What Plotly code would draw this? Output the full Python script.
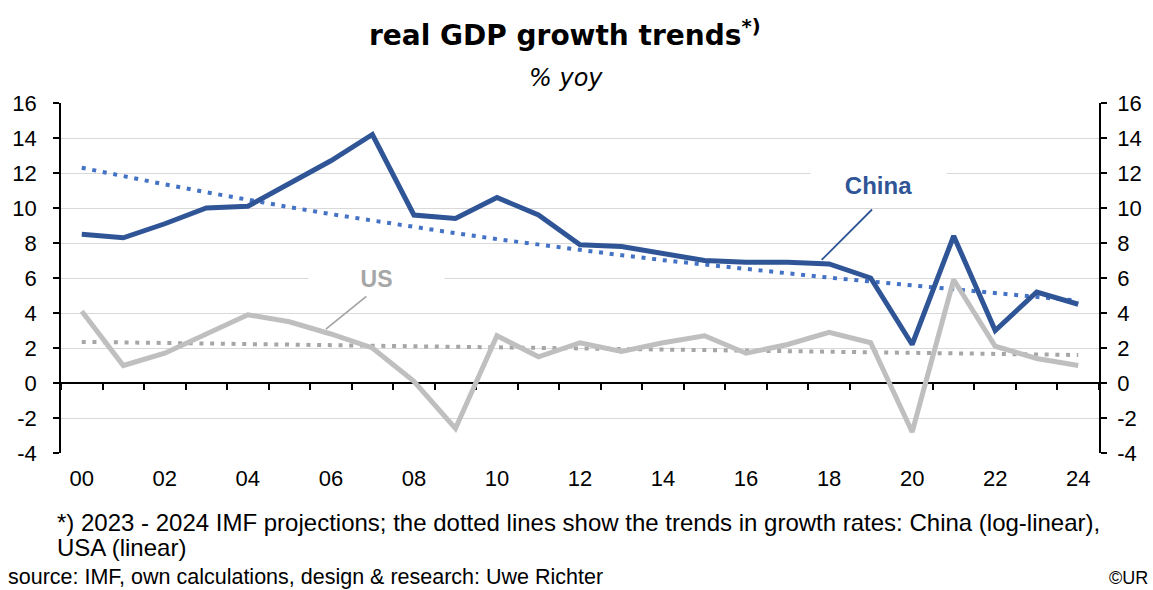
import plotly.graph_objects as go

years = ["00","01","02","03","04","05","06","07","08","09","10","11","12",
         "13","14","15","16","17","18","19","20","21","22","23","24"]
china = [8.5, 8.3, 9.1, 10.0, 10.1, 11.4, 12.7, 14.2, 9.6, 9.4, 10.6, 9.6, 7.9,
         7.8, 7.4, 7.0, 6.9, 6.9, 6.8, 6.0, 2.2, 8.4, 3.0, 5.2, 4.5]
us = [4.1, 1.0, 1.7, 2.8, 3.9, 3.5, 2.8, 2.0, 0.1, -2.6, 2.7, 1.5, 2.3,
      1.8, 2.3, 2.7, 1.7, 2.2, 2.9, 2.3, -2.8, 5.9, 2.1, 1.4, 1.0]
china_trend = [12.3, 11.8, 11.35, 10.9, 10.45, 10.05, 9.65, 9.27, 8.9, 8.56, 8.22, 7.9, 7.6,
               7.3, 7.02, 6.76, 6.5, 6.25, 6.02, 5.8, 5.58, 5.37, 5.17, 4.97, 4.7]
us_trend = [2.35, 2.32, 2.29, 2.26, 2.23, 2.19, 2.16, 2.13, 2.1, 2.07, 2.04, 2.01, 1.98,
            1.94, 1.91, 1.88, 1.85, 1.82, 1.79, 1.76, 1.73, 1.69, 1.66, 1.63, 1.6]
x_tick_labels = years[::2]
y_tick_vals = [-4, -2, 0, 2, 4, 6, 8, 10, 12, 14, 16]
y_tick_text = ["-4", "-2", "0", "2", "4", "6", "8", "10", "12", "14", "16"]

BLUE = "#2F5597"
BLUE_DOT = "#4472C4"
GREY = "#BFBFBF"
GREY_DOT = "#A6A6A6"
FONT = "Liberation Sans, Arial, sans-serif"
VFONT = "DejaVu Sans, Verdana, sans-serif"

fig = go.Figure()
fig.add_trace(go.Scatter(x=years, y=us_trend, mode="lines",
                         line=dict(color=GREY_DOT, width=4, dash="4px,6.7px"), hoverinfo="skip"))
fig.add_trace(go.Scatter(x=years, y=china_trend, mode="lines",
                         line=dict(color=BLUE_DOT, width=4, dash="4px,6.7px"), hoverinfo="skip"))
fig.add_trace(go.Scatter(x=years, y=us, mode="lines", name="US",
                         line=dict(color=GREY, width=5)))
fig.add_trace(go.Scatter(x=years, y=china, mode="lines", name="China",
                         line=dict(color=BLUE, width=5)))
fig.add_trace(go.Scatter(x=[None], y=[None], xaxis="x2", yaxis="y2", showlegend=False, hoverinfo="skip"))

L, R, T, B = 61, 1153 - 1099, 103, 590 - 453
H = 590 - T - B
W = 1153 - L - R

def py(p):
    return (590 - B - p) / H

def px(p):
    return (p - L) / W

axis_common = dict(showline=True, linecolor="black", linewidth=1.5,
                   ticks="outside", ticklen=6, tickwidth=1.5, tickcolor="black")

fig.update_layout(
    width=1153, height=590,
    margin=dict(l=L, r=R, t=T, b=B),
    paper_bgcolor="white", plot_bgcolor="white",
    showlegend=False,
    font=dict(family=FONT, size=22, color="black"),
    xaxis=dict(type="category", range=[-0.5, 24.5], tickvals=x_tick_labels, ticktext=x_tick_labels,
               showgrid=False, showline=False, ticks="", zeroline=False,
               tickfont=dict(size=22), ticklabelstandoff=10),
    xaxis2=dict(overlaying="x", anchor="free", position=0.2, side="bottom",
                range=[-0.5, 24.5], tick0=0.5, dtick=1, showticklabels=False,
                showline=True, linecolor="black", linewidth=2,
                ticks="outside", ticklen=6, tickwidth=1.5, tickcolor="black",
                showgrid=False, zeroline=False, layer="below traces"),
    yaxis=dict(range=[-4, 16], tickvals=y_tick_vals, ticktext=y_tick_text,
               showgrid=True, gridcolor="#D9D9D9", gridwidth=1.3, zeroline=False,
               tickfont=dict(size=22), ticklabelstandoff=12, **axis_common),
    yaxis2=dict(overlaying="y", side="right", range=[-4, 16], tickvals=y_tick_vals, ticktext=y_tick_text,
                showgrid=False, zeroline=False,
                tickfont=dict(size=22), ticklabelstandoff=6, **axis_common),
)

ann = []
ann.append(dict(text="<b>real GDP growth trends<sup>*)</sup></b>", xref="paper", yref="paper",
                x=px(565), y=py(33), xanchor="center", yanchor="middle", showarrow=False,
                font=dict(family=VFONT, size=28, color="black")))
ann.append(dict(text="<i>% yoy</i>", xref="paper", yref="paper",
                x=px(566), y=py(78), xanchor="center", yanchor="middle", showarrow=False,
                font=dict(family=VFONT, size=24, color="black")))
# leader lines
ann.append(dict(text="", x=17.82, y=7.03, ax=19.07, ay=10.0, xref="x", yref="y",
                axref="x", ayref="y", showarrow=True, arrowhead=0, arrowwidth=1.8,
                arrowcolor=BLUE, standoff=0, startstandoff=0))
ann.append(dict(text="", x=5.88, y=3.08, ax=6.89, ay=5.02, xref="x", yref="y",
                axref="x", ayref="y", showarrow=True, arrowhead=0, arrowwidth=1.8,
                arrowcolor=GREY_DOT, standoff=0, startstandoff=0))
# labels
ann.append(dict(text="<b>China</b>", x=19.19, y=11.32, xref="x", yref="y", showarrow=False,
                bgcolor="white", width=135, height=30, borderpad=0,
                font=dict(family=FONT, size=24, color=BLUE)))
ann.append(dict(text="<b>US</b>", x=7.1, y=5.94, xref="x", yref="y", showarrow=False,
                bgcolor="white", width=135, height=30, borderpad=0,
                font=dict(family=FONT, size=23, color=GREY_DOT)))
# footnotes
ann.append(dict(text="*) 2023 - 2024 IMF projections; the dotted lines show the trends in growth rates: China (log-linear),",
                xref="paper", yref="paper", x=px(55), y=py(522), xanchor="left", yanchor="middle",
                showarrow=False, font=dict(size=24)))
ann.append(dict(text="USA (linear)",
                xref="paper", yref="paper", x=px(55), y=py(547), xanchor="left", yanchor="middle",
                showarrow=False, font=dict(size=24)))
ann.append(dict(text="source: IMF, own calculations, design & research: Uwe Richter",
                xref="paper", yref="paper", x=px(6), y=py(577), xanchor="left", yanchor="middle",
                showarrow=False, font=dict(size=21.5)))
ann.append(dict(text="©UR", xref="paper", yref="paper", x=px(1150), y=py(578),
                xanchor="right", yanchor="middle", showarrow=False, font=dict(size=18)))
fig.update_layout(annotations=ann)

fig.write_html("out.html", config={"displayModeBar": False},
               post_script="document.body.style.margin='0';document.body.style.overflow='hidden';")
